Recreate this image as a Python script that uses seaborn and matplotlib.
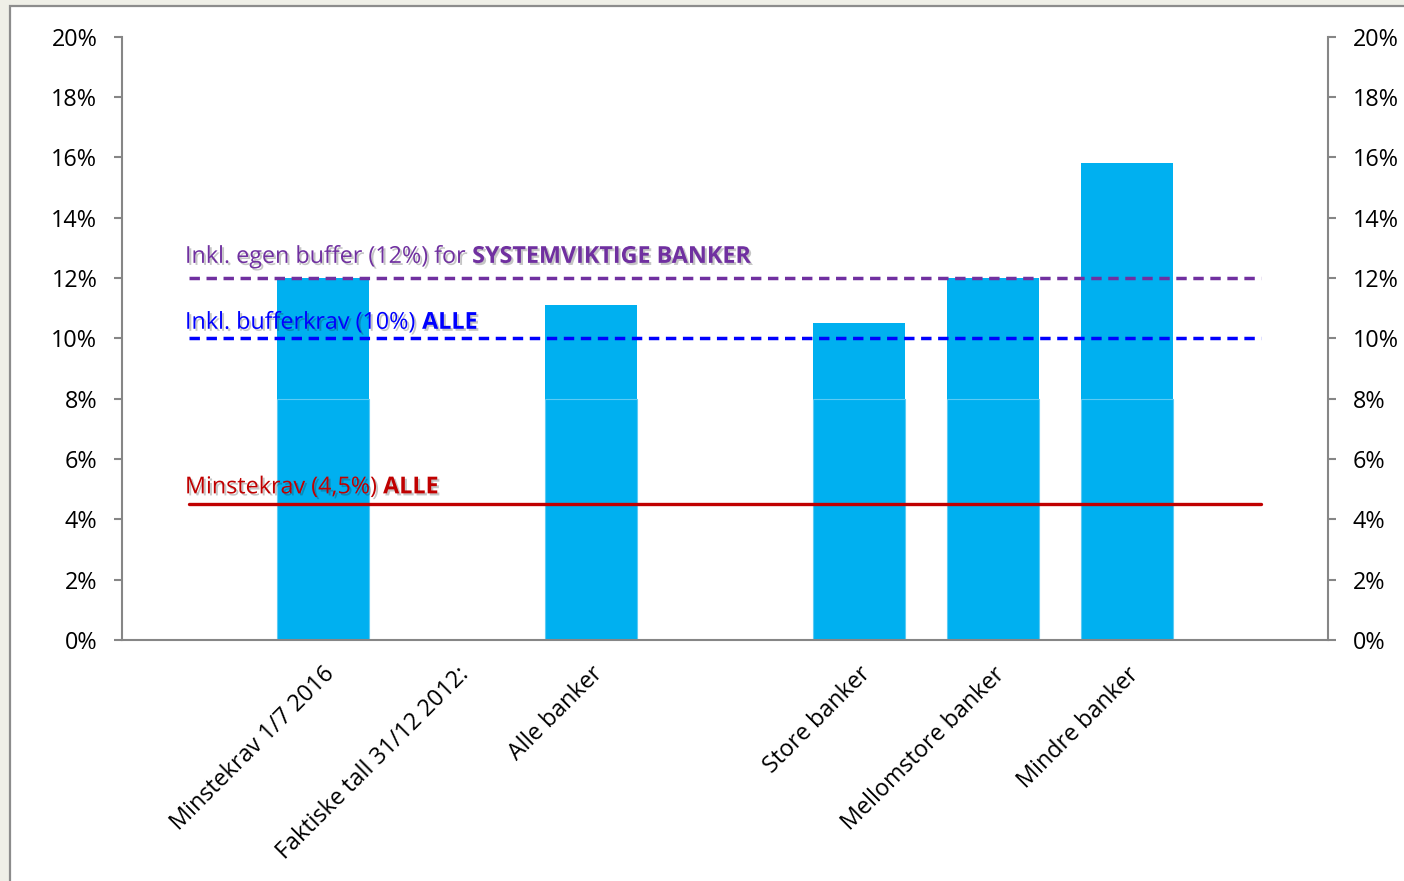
import numpy as np
import pandas as pd
import seaborn as sns
import matplotlib.pyplot as plt
import matplotlib.patheffects as pe
from matplotlib.patches import Rectangle

sns.set_theme(style="ticks")
plt.rcParams['font.family'] = ['Open Sans', 'DejaVu Sans']

# ---- data ----
categories = ["", "Minstekrav 1/7 2016", "Faktiske tall 31/12 2012:", "Alle banker", "",
              "Store banker", "Mellomstore banker", "Mindre banker", ""]
ratios = [0, 12.0, 0, 11.1, 0, 10.5, 12.0, 15.8, 0]   # kapitaldekning, %
split_level = 8.0                                    # segment split inside bars
min_req = [4.5] * 9          # Minstekrav (4,5%) ALLE
buffer_req = [10.0] * 9      # Inkl. bufferkrav (10%) ALLE
sys_req = [12.0] * 9         # Inkl. egen buffer (12%) SYSTEMVIKTIGE
y_ticks = [0, 2, 4, 6, 8, 10, 12, 14, 16, 18, 20]

pos = list(range(len(categories)))
df = pd.DataFrame({'pos': pos, 'ratio': ratios})
bars = df[df['ratio'] > 0].copy()
bars['lower'] = bars['ratio'].clip(upper=split_level)

bar_color = '#00B0F0'
grey = '#868686'
fs = 16.8

fig = plt.figure(figsize=(14.04, 8.81), dpi=100)
fig.patch.set_facecolor('#EFEFE7')
fig.patches.append(Rectangle((10 / 1404, -0.01), 1.0, 1 - 6 / 881 + 0.01,
                             transform=fig.transFigure, facecolor='white',
                             edgecolor='#8C8C8C', linewidth=1.6, zorder=-1))

ax = fig.add_axes([122 / 1404, 1 - 640 / 881, 1206 / 1404, (640 - 36.5) / 881])
ax.set_facecolor('none')

# bars (full height, then lower segment to show the split line)
sns.barplot(data=bars, x='pos', y='ratio', native_scale=True, width=0.69,
            color=bar_color, saturation=1, linewidth=0, ax=ax, zorder=2)
sns.barplot(data=bars, x='pos', y='lower', native_scale=True, width=0.69,
            color=bar_color, saturation=1, edgecolor='#5CCBF4', linewidth=0.8,
            ax=ax, zorder=2)

shadow = [pe.withSimplePatchShadow(offset=(1.5, -1.5), shadow_rgbFace='k', alpha=0.25)]

# requirement lines
sns.lineplot(x=pos, y=min_req, color='#C00000', linewidth=2.4, ax=ax, zorder=4,
             path_effects=shadow, solid_capstyle='round')
sns.lineplot(x=pos, y=buffer_req, color='#0000FF', linewidth=2.5, ax=ax, zorder=4,
             linestyle=(0, (3.0, 1.9)), path_effects=shadow)
sns.lineplot(x=pos, y=sys_req, color='#7030A0', linewidth=2.5, ax=ax, zorder=4,
             linestyle=(0, (3.0, 1.9)), path_effects=shadow)

# line labels (normal part + bold part)
labels = [
    (sys_req[0], 'Inkl. egen buffer (12%) for ', 'SYSTEMVIKTIGE BANKER', '#7030A0', 6.5),
    (buffer_req[0], 'Inkl. bufferkrav (10%) ', 'ALLE', '#0000FF', 2.5),
    (min_req[0], 'Minstekrav (4,5%) ', 'ALLE', '#C00000', 3.5),
]
for yv, normal, bold, col, off in labels:
    t = ax.annotate(normal, xy=(-0.03, yv), xytext=(0, off), textcoords='offset points',
                    ha='left', va='bottom', color=col, fontsize=fs, zorder=5,
                    path_effects=shadow)
    ax.annotate(bold, xy=(1, 0), xycoords=t, ha='left', va='bottom', color=col,
                fontsize=fs, fontweight='bold', zorder=5, path_effects=shadow)

# axes
ax.set_xlim(-0.5, len(categories) - 0.5)
ax.set_ylim(0, 20)
ax.set_yticks(y_ticks)
ax.set_yticklabels([f'{v}%' for v in y_ticks])
ax.set_xticks(pos)
ax.set_xticklabels(categories, rotation=45, ha='right', rotation_mode='anchor')
ax.set_xlabel('')
ax.set_ylabel('')
ax.tick_params(axis='x', length=0, pad=16, labelsize=fs, colors='black')
ax.tick_params(axis='y', length=5.8, width=1.5, color=grey, pad=12, labelsize=fs,
               labelcolor='black')

ax2 = ax.twinx()
ax2.set_ylim(0, 20)
ax2.set_yticks(y_ticks)
ax2.set_yticklabels([f'{v}%' for v in y_ticks])
ax2.tick_params(axis='y', length=5.8, width=1.5, color=grey, pad=12, labelsize=fs,
                labelcolor='black')

for a in (ax, ax2):
    a.spines['top'].set_visible(False)
    for s in ('left', 'right', 'bottom'):
        a.spines[s].set_color(grey)
        a.spines[s].set_linewidth(1.5)
ax.spines['right'].set_visible(False)
ax2.spines['left'].set_visible(False)
ax2.spines['bottom'].set_visible(False)

plt.savefig('out.png', dpi=100, facecolor=fig.get_facecolor())
